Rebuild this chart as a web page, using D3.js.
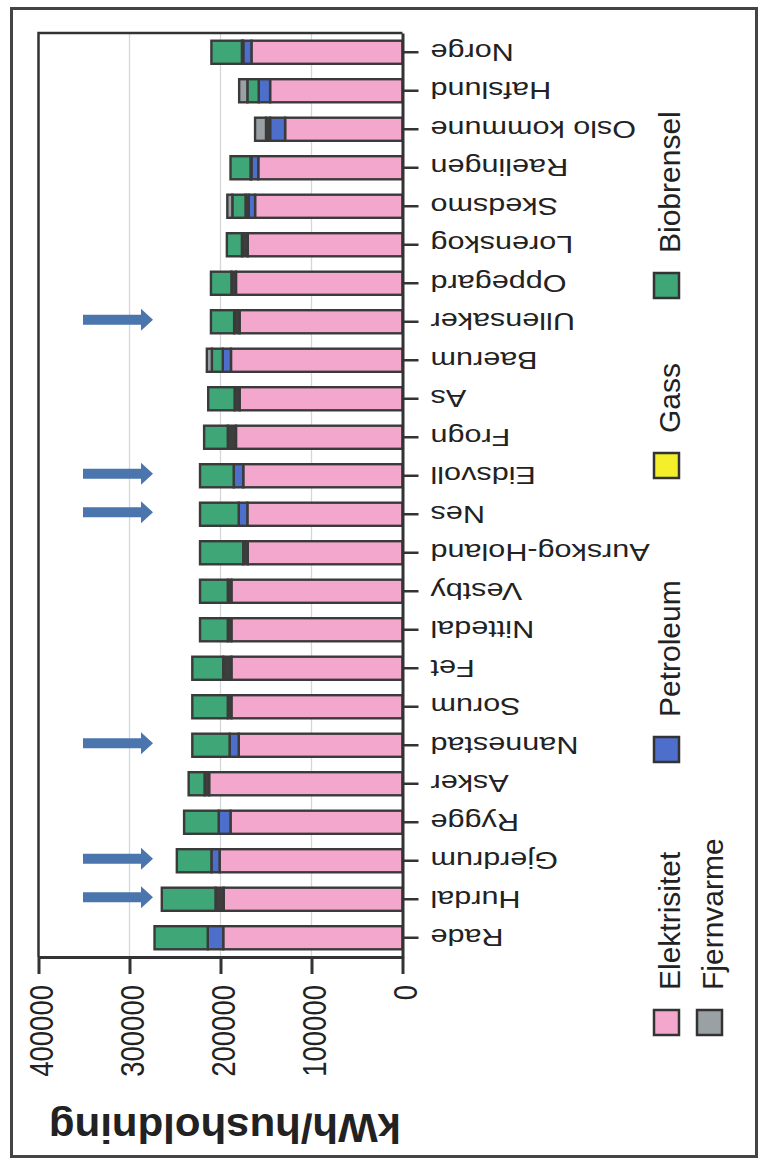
<!DOCTYPE html>
<html><head><meta charset="utf-8">
<script src="https://cdn.jsdelivr.net/npm/d3@7"></script>
<style>body{margin:0;background:#fff}svg{display:block}</style>
</head><body>
<svg id="c" width="768" height="1167"></svg>
<script>
// ---- data (original order: left-to-right of the un-rotated chart) ----
const categories = ["Rade","Hurdal","Gjerdrum","Rygge","Asker","Nannestad","Sorum","Fet","Nittedal","Vestby","Aurskog-Holand","Nes","Eidsvoll","Frogn","As","Baerum","Ullensaker","Oppegard","Lorenskog","Skedsmo","Raelingen","Oslo kommune","Hafslund","Norge"];
const elektrisitet = [197000,196500,201000,189000,212500,180000,188000,188000,188000,188000,170000,170500,175000,183000,179000,188500,179000,183000,170000,162000,158500,129000,145500,166000];
const petroleum    = [17000,0,9000,13000,0,10000,0,0,0,0,0,9500,10500,0,0,9000,0,0,0,7000,7500,16500,12500,9000];
const annet        = [0,9000,0,0,5000,0,4000,9000,4000,4000,5000,0,0,9000,5500,0,6000,5000,6500,3500,1000,4500,0,1500];
const gass         = [0,0,0,0,0,0,0,0,0,0,0,0,0,0,0,0,0,0,0,0,0,0,0,0];
const biobrensel   = [58500,59000,38000,38000,17500,41000,39000,34000,30500,30500,47500,42500,37000,26000,29000,12000,25500,22500,16500,14500,22000,0,12500,33500];
const fjernvarme   = [0,0,0,0,0,0,0,0,0,0,0,0,0,0,0,5500,0,0,0,5500,0,12000,9000,0];
const valueTicks = [0,100000,200000,300000,400000];
const gridValues = [100000,200000,300000];
const markedCategories = ["Ullensaker","Eidsvoll","Nes","Nannestad","Gjerdrum","Hurdal"];
const legendNames = ["Elektrisitet","Petroleum","Gass","Biobrensel","Fjernvarme"];
const axisTitle = "kWh/husholdning";

const keys = ["Elektrisitet","Petroleum","Annet","Gass","Biobrensel","Fjernvarme"];
const colors = {Elektrisitet:"#f4a7cc",Petroleum:"#4d6ecb",Annet:"#3e3e3e",Gass:"#f4ef2a",Biobrensel:"#3ea677",Fjernvarme:"#9aa1a4"};

const rows = categories.map((c,i)=>({cat:c,Elektrisitet:elektrisitet[i],Petroleum:petroleum[i],Annet:annet[i],Gass:gass[i],Biobrensel:biobrensel[i],Fjernvarme:fjernvarme[i]}));

const svg = d3.select("#c");
const FONT = "'Liberation Sans', Arial, sans-serif";
svg.append("rect").attr("width",768).attr("height",1167).attr("fill","#fff");

// outer frame
svg.append("rect").attr("x",11.5).attr("y",8.5).attr("width",745).attr("height",1148)
  .attr("fill","none").attr("stroke","#444").attr("stroke-width",3);

const plot = {left:38.5, right:402.5, top:33, bottom:957};
const x = d3.scaleLinear().domain([0,400000]).range([plot.right, plot.left]);
const y = d3.scaleBand().domain(categories).range([plot.bottom, plot.top]).paddingInner(0.4).paddingOuter(0.2);

// grid
svg.append("g").selectAll("line").data(gridValues).join("line")
  .attr("x1",d=>x(d)).attr("x2",d=>x(d)).attr("y1",plot.top).attr("y2",plot.bottom)
  .attr("stroke","#d3d7da").attr("stroke-width",1.3);

// plot frame (top and left sides of the plot area)
svg.append("path").attr("d",`M${plot.left},${plot.bottom}V${plot.top}H${plot.right}`)
  .attr("fill","none").attr("stroke","#333").attr("stroke-width",2.5);

// bars
const series = d3.stack().keys(keys)(rows);
svg.append("g").selectAll("g").data(series).join("g")
  .attr("fill",d=>colors[d.key])
  .selectAll("rect").data(d=>d.filter(s=>s[1]-s[0]>0)).join("rect")
  .attr("x",d=>x(d[1])).attr("width",d=>x(d[0])-x(d[1]))
  .attr("y",d=>y(d.data.cat)).attr("height",y.bandwidth())
  .attr("stroke","#3a3a3a").attr("stroke-width",2.4);

// value axis (bottom)
const gx = svg.append("g").attr("transform",`translate(0,${plot.bottom})`)
  .call(d3.axisBottom(x).tickValues(valueTicks).tickFormat(d3.format("d")).tickSize(17).tickSizeOuter(0));
gx.select(".domain").attr("stroke","#333").attr("stroke-width",3);
gx.selectAll(".tick line").attr("stroke","#333").attr("stroke-width",3);
gx.selectAll(".tick text").attr("y",0).attr("x",0).attr("dy","0.42em")
  .attr("text-anchor","end").attr("fill","#222")
  .attr("font-family",FONT).attr("font-size",34)
  .attr("transform","translate(0,28) rotate(-90) scale(0.81,1)");

// category axis (right)
const gy = svg.append("g").attr("transform",`translate(${plot.right},0)`)
  .call(d3.axisRight(y).tickSize(16).tickSizeOuter(0));
gy.select(".domain").attr("stroke","#333").attr("stroke-width",3);
gy.selectAll(".tick line").attr("stroke","#333").attr("stroke-width",2.5);
gy.selectAll(".tick text").attr("x",0).attr("y",0).attr("dy","0.36em")
  .attr("text-anchor","end").attr("fill","#222")
  .attr("font-family",FONT).attr("font-size",23)
  .attr("transform","translate(28,0) rotate(180) scale(1.33,1)");
gx.attr("font-family",null); gy.attr("font-family",null);

// axis title
svg.append("text").text(axisTitle)
  .attr("font-family",FONT).attr("font-weight","bold").attr("font-size",40).attr("fill","#222")
  .attr("text-anchor","middle")
  .attr("transform","translate(225,1113.5) rotate(180) scale(1.05,1)");

// arrows
const arrowPath = "M-70,-5H-12V-11L0,0L-12,11V5H-70Z";
svg.append("g").selectAll("path").data(markedCategories).join("path")
  .attr("d",arrowPath).attr("fill","#4a75ad")
  .attr("transform",d=>`translate(153,${y(d)+y.bandwidth()/2-2})`);

// legend
const legendLayout = {
  Elektrisitet:{row:0, pos:1035}, Petroleum:{row:0, pos:762}, Gass:{row:0, pos:478},
  Biobrensel:{row:0, pos:298}, Fjernvarme:{row:1, pos:1035}
};
const legendKey = {Elektrisitet:"Elektrisitet",Petroleum:"Petroleum",Gass:"Gass",Biobrensel:"Biobrensel",Fjernvarme:"Fjernvarme"};
const lg = svg.append("g").selectAll("g").data(legendNames).join("g")
  .attr("transform",d=>`translate(${654+legendLayout[d].row*43},${legendLayout[d].pos})`);
lg.append("rect").attr("x",0).attr("y",-25).attr("width",25).attr("height",25)
  .attr("fill",d=>colors[legendKey[d]]).attr("stroke","#333").attr("stroke-width",2.5);
lg.append("text").text(d=>d)
  .attr("font-family",FONT).attr("font-size",30).attr("fill","#222")
  .attr("transform","translate(25.5,-45) rotate(-90)");
</script>
</body></html>
